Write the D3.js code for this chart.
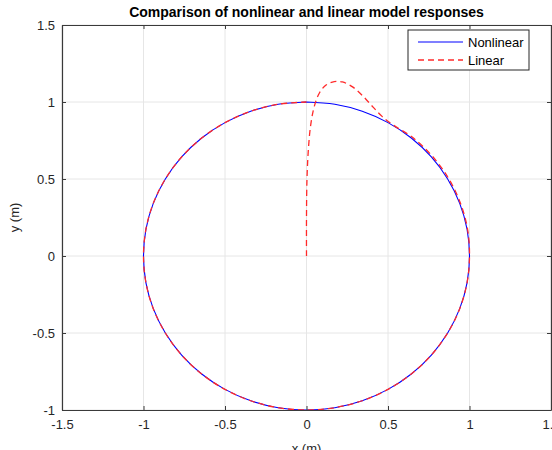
<!DOCTYPE html>
<html>
<head>
<meta charset="utf-8">
<script src="https://cdn.jsdelivr.net/npm/d3@7"></script>
<style>
  body { margin: 0; background: #fff; }
  svg { display: block; font-family: "Liberation Sans", Arial, sans-serif; }
</style>
</head>
<body>
<svg id="chart" width="552" height="450"></svg>
<script>
// data
const xTicks = [-1.5, -1, -0.5, 0, 0.5, 1, 1.5];
const yTicks = [-1, -0.5, 0, 0.5, 1, 1.5];
const xTickLabels = ["-1.5", "-1", "-0.5", "0", "0.5", "1", "1.5"];
const yTickLabels = ["-1", "-0.5", "0", "0.5", "1", "1.5"];

// nonlinear response: goes round the unit circle clockwise from the top
const nonlinX = [0, 0.174, 0.342, 0.5, 0.643, 0.766, 0.866, 0.94, 0.985, 1,
  0.985, 0.94, 0.866, 0.766, 0.643, 0.5, 0.342, 0.174, 0,
  -0.174, -0.342, -0.5, -0.643, -0.766, -0.866, -0.94, -0.985, -1,
  -0.985, -0.94, -0.866, -0.766, -0.643, -0.5, -0.342, -0.174, 0];
const nonlinY = [1, 0.985, 0.94, 0.866, 0.766, 0.643, 0.5, 0.342, 0.174, 0,
  -0.174, -0.342, -0.5, -0.643, -0.766, -0.866, -0.94, -0.985, -1,
  -0.985, -0.94, -0.866, -0.766, -0.643, -0.5, -0.342, -0.174, 0,
  0.174, 0.342, 0.5, 0.643, 0.766, 0.866, 0.94, 0.985, 1];

// linear response: starts at origin, overshoots, then follows the circle
const linX = [0, 0, 0.003, 0.012, 0.027, 0.05, 0.08, 0.12, 0.17, 0.22, 0.28, 0.345, 0.41, 0.465,
  0.54, 0.648, 0.772, 0.872, 0.944, 0.988, 1,
  0.985, 0.94, 0.866, 0.766, 0.643, 0.5, 0.342, 0.174, 0.01,
  -0.174, -0.342, -0.5, -0.643, -0.766, -0.866, -0.94, -0.985, -1,
  -0.985, -0.94, -0.866, -0.766, -0.643, -0.5, -0.342, -0.174, 0];
const linY = [0, 0.25, 0.5, 0.7, 0.86, 0.98, 1.06, 1.11, 1.133, 1.13, 1.1, 1.04, 0.965, 0.905,
  0.845, 0.772, 0.648, 0.503, 0.344, 0.175, 0,
  -0.174, -0.342, -0.5, -0.643, -0.766, -0.866, -0.94, -0.985, -1,
  -0.985, -0.94, -0.866, -0.766, -0.643, -0.5, -0.342, -0.174, 0,
  0.174, 0.342, 0.5, 0.643, 0.766, 0.866, 0.94, 0.985, 1];

const seriesNames = ["Nonlinear", "Linear"];

const svg = d3.select("#chart");
const mLeft = 62, mRight = 551, mTop = 25, mBottom = 410;

const x = d3.scaleLinear().domain([-1.5, 1.5]).range([mLeft, mRight]);
const y = d3.scaleLinear().domain([-1, 1.5]).range([mBottom, mTop]);

// grid
svg.append("g").selectAll("line").data(xTicks).join("line")
  .attr("x1", d => x(d)).attr("x2", d => x(d))
  .attr("y1", mTop).attr("y2", mBottom)
  .attr("stroke", "#e6e6e6").attr("stroke-width", 1);
svg.append("g").selectAll("line").data(yTicks).join("line")
  .attr("x1", mLeft).attr("x2", mRight)
  .attr("y1", d => y(d)).attr("y2", d => y(d))
  .attr("stroke", "#e6e6e6").attr("stroke-width", 1);

// curves
const toPts = (xs, ys) => xs.map((v, i) => [v, ys[i]]);
const line = d3.line().x(d => x(d[0])).y(d => y(d[1])).curve(d3.curveCatmullRom);

svg.append("path")
  .attr("d", line(toPts(nonlinX, nonlinY)))
  .attr("fill", "none").attr("stroke", "#0000ff").attr("stroke-width", 1.1);

svg.append("path")
  .attr("d", line(toPts(linX, linY)))
  .attr("fill", "none").attr("stroke", "#ff2a2a").attr("stroke-width", 1.3)
  .attr("stroke-dasharray", "6,4");

// axes, ticks pointing inward
const fmtX = (d, i) => xTickLabels[i];
const fmtY = (d, i) => yTickLabels[i];

const gx = svg.append("g").attr("transform", `translate(0,${mBottom})`)
  .call(d3.axisBottom(x).tickValues(xTicks).tickFormat(fmtX).tickSizeInner(-4).tickSizeOuter(0).tickPadding(10));
const gxt = svg.append("g").attr("transform", `translate(0,${mTop})`)
  .call(d3.axisTop(x).tickValues(xTicks).tickFormat("").tickSizeInner(-4).tickSizeOuter(0));
const gy = svg.append("g").attr("transform", `translate(${mLeft},0)`)
  .call(d3.axisLeft(y).tickValues(yTicks).tickFormat(fmtY).tickSizeInner(-4).tickSizeOuter(0).tickPadding(7));
const gyr = svg.append("g").attr("transform", `translate(${mRight},0)`)
  .call(d3.axisRight(y).tickValues(yTicks).tickFormat("").tickSizeInner(-4).tickSizeOuter(0));

[gx, gxt, gy, gyr].forEach(g => {
  g.select(".domain").attr("stroke", "#3a3a3a").attr("stroke-width", 1.2);
  g.selectAll(".tick line").attr("stroke", "#3a3a3a");
  g.selectAll("text").attr("fill", "#262626").style("font-size", "13px")
    .style("font-family", "'Liberation Sans', Arial, sans-serif");
});

// labels
svg.append("text").attr("x", (mLeft + mRight) / 2).attr("y", 17)
  .attr("text-anchor", "middle").style("font-weight", "bold").style("font-size", "14px")
  .attr("fill", "#000").text("Comparison of nonlinear and linear model responses");

svg.append("text").attr("x", (mLeft + mRight) / 2).attr("y", 453)
  .attr("text-anchor", "middle").style("font-size", "13px").attr("fill", "#262626")
  .text("x (m)");

svg.append("text").attr("transform", `translate(19,${(mTop + mBottom) / 2}) rotate(-90)`)
  .attr("text-anchor", "middle").style("font-size", "13px").attr("fill", "#262626")
  .text("y (m)");

// legend
const lg = svg.append("g").attr("transform", "translate(408,30)");
lg.append("rect").attr("width", 121).attr("height", 40)
  .attr("fill", "#fff").attr("stroke", "#262626").attr("stroke-width", 1);
const styles = [
  { stroke: "#0000ff", dash: null, w: 1.1 },
  { stroke: "#ff2a2a", dash: "6,4", w: 1.3 }
];
seriesNames.forEach((name, i) => {
  const yy = 12 + i * 18;
  lg.append("line").attr("x1", 10).attr("x2", 55).attr("y1", yy).attr("y2", yy)
    .attr("stroke", styles[i].stroke).attr("stroke-width", styles[i].w)
    .attr("stroke-dasharray", styles[i].dash);
  lg.append("text").attr("x", 60).attr("y", yy).attr("dy", "0.35em")
    .style("font-size", "13px").attr("fill", "#000").text(name);
});
</script>
</body>
</html>
